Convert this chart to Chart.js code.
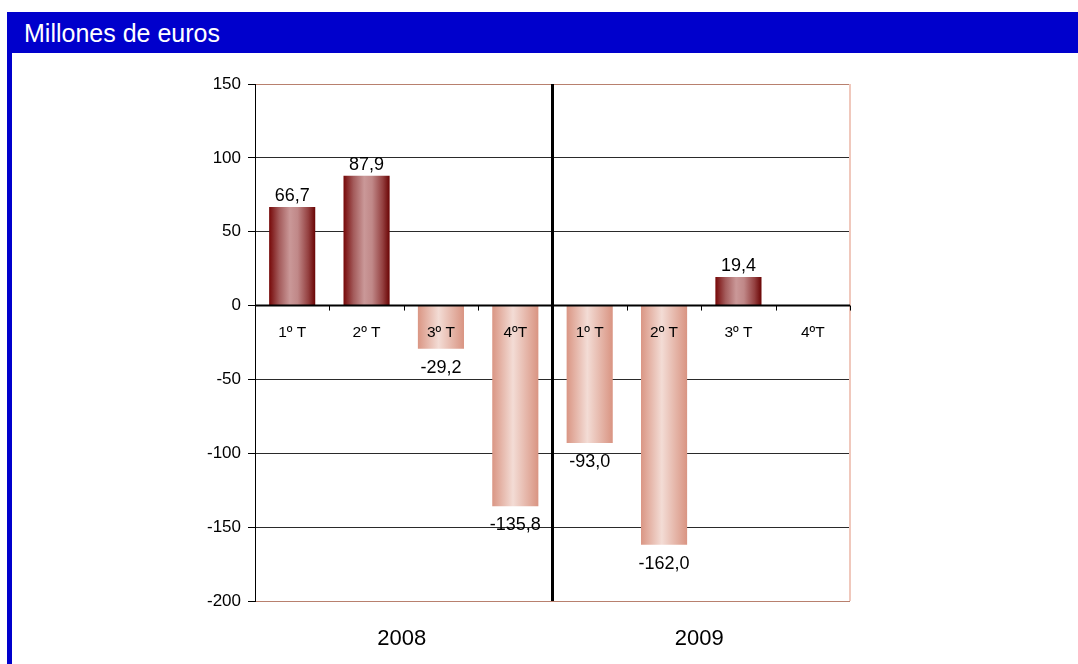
<!DOCTYPE html>
<html>
<head>
<meta charset="utf-8">
<script src="https://cdn.jsdelivr.net/npm/chart.js@4/dist/chart.umd.min.js"></script>
<style>
    html, body { margin: 0; padding: 0; background: #fff; }
    body { width: 1078px; height: 664px; position: relative; overflow: hidden; font-family: 'Liberation Sans', Arial, sans-serif; }
    #head { position: absolute; left: 7px; top: 12px; width: 1071px; height: 41px; background: #0000cc; }
    #head span { position: absolute; left: 17px; top: 7px; color: #fff; font-size: 25px; line-height: 29px; white-space: nowrap; }
    #edge { position: absolute; left: 7px; top: 53px; width: 5px; height: 611px; background: #0000cc; }
    #wrap { position: absolute; left: 0; top: 0; width: 1078px; height: 664px; }
</style>
</head>
<body>
<div id="head"><span>Millones de euros</span></div>
<div id="edge"></div>
<div id="wrap"><canvas id="chart" width="1078" height="664"></canvas></div>
<script>
const quarters = ['1º T', '2º T', '3º T', '4ºT', '1º T', '2º T', '3º T', '4ºT'];
const years = ['2008', '2009'];
const values = [66.7, 87.9, -29.2, -135.8, -93.0, -162.0, 19.4, null];
const yTicks = [150, 100, 50, 0, -50, -100, -150, -200];

const BAR_PCT = 0.62;
const FONT = '"Liberation Sans", Arial, sans-serif';

function barFill(context) {
    const chart = context.chart;
    const xScale = chart.scales.x;
    if (!xScale || !chart.chartArea) return '#a05050';
    const v = values[context.dataIndex];
    const cx = xScale.getPixelForValue(context.dataIndex);
    const w = (chart.chartArea.width / quarters.length) * BAR_PCT;
    const g = chart.ctx.createLinearGradient(cx - w / 2, 0, cx + w / 2, 0);
    if (v >= 0) {
        g.addColorStop(0, '#760808');
        g.addColorStop(0.22, '#a45c5c');
        g.addColorStop(0.45, '#ca9898');
        g.addColorStop(0.62, '#c08888');
        g.addColorStop(0.85, '#944040');
        g.addColorStop(1, '#6a0404');
    } else {
        g.addColorStop(0, '#da9684');
        g.addColorStop(0.45, '#f3dcd5');
        g.addColorStop(1, '#d99482');
    }
    return g;
}

const decorations = {
    id: 'decorations',
    afterDatasetsDraw(chart) {
        const { ctx, chartArea } = chart;
        const x = chart.scales.x;
        const y = chart.scales.y;
        const y0 = y.getPixelForValue(0);
        const band = chartArea.width / quarters.length;
        ctx.save();

        // right frame edge
        ctx.strokeStyle = '#f0c8bc';
        ctx.lineWidth = 2;
        ctx.beginPath();
        ctx.moveTo(chartArea.right, chartArea.top);
        ctx.lineTo(chartArea.right, chartArea.bottom);
        ctx.stroke();

        // zero line with ticks
        ctx.strokeStyle = '#000';
        ctx.lineWidth = 2;
        ctx.beginPath();
        ctx.moveTo(chartArea.left, y0);
        ctx.lineTo(chartArea.right, y0);
        ctx.stroke();
        ctx.lineWidth = 1;
        for (let k = 0; k <= quarters.length; k++) {
            const px = Math.round(chartArea.left + k * band) + 0.5;
            ctx.beginPath();
            ctx.moveTo(px, y0);
            ctx.lineTo(px, y0 + 5);
            ctx.stroke();
        }

        // year divider
        const mid = chartArea.left + band * 4;
        ctx.lineWidth = 3;
        ctx.beginPath();
        ctx.moveTo(mid, chartArea.top);
        ctx.lineTo(mid, chartArea.bottom);
        ctx.stroke();

        ctx.fillStyle = '#000';
        ctx.textAlign = 'center';
        ctx.textBaseline = 'alphabetic';

        // quarter labels
        ctx.font = '15.5px ' + FONT;
        quarters.forEach((q, i) => {
            ctx.fillText(q, x.getPixelForValue(i), y0 + 31);
        });

        // value labels
        ctx.font = '18px ' + FONT;
        values.forEach((v, i) => {
            if (v == null) return;
            const px = x.getPixelForValue(i);
            const py = y.getPixelForValue(v);
            const txt = v.toFixed(1).replace('.', ',');
            ctx.fillText(txt, px, v >= 0 ? py - 6 : py + 24);
        });

        // year labels
        ctx.font = '22px ' + FONT;
        years.forEach((yr, k) => {
            ctx.fillText(yr, chartArea.left + band * (k * 4 + 2) - 2, chartArea.bottom + 44);
        });
        ctx.restore();
    },
};

new Chart(document.getElementById('chart'), {
    type: 'bar',
    data: {
        labels: quarters,
        datasets: [
            {
                data: values,
                backgroundColor: barFill,
                borderWidth: 0,
                barPercentage: BAR_PCT,
                categoryPercentage: 1,
            },
        ],
    },
    options: {
        responsive: false,
        animation: false,
        devicePixelRatio: 1,
        layout: { padding: { left: 155, right: 228, top: 84, bottom: 63 } },
        plugins: { legend: { display: false }, tooltip: { enabled: false } },
        scales: {
            x: { display: false },
            y: {
                min: -200,
                max: 150,
                afterFit: (s) => { s.width = 100; },
                afterBuildTicks: (s) => { s.ticks = yTicks.map((v) => ({ value: v })); },
                border: { display: true, color: '#000', width: 1 },
                grid: {
                    color: (c) => {
                        const v = c.tick && c.tick.value;
                        if (v === 150 || v === -200) return '#b8806e';
                        if (v === 0) return 'rgba(0,0,0,0)';
                        return '#2a2a2a';
                    },
                    tickColor: '#000',
                    tickLength: 7,
                    lineWidth: 1,
                },
                ticks: {
                    color: '#000',
                    padding: 7,
                    font: { family: FONT, size: 17 },
                    callback: (v) => String(v),
                },
            },
        },
    },
    plugins: [decorations],
});
</script>
</body>
</html>
